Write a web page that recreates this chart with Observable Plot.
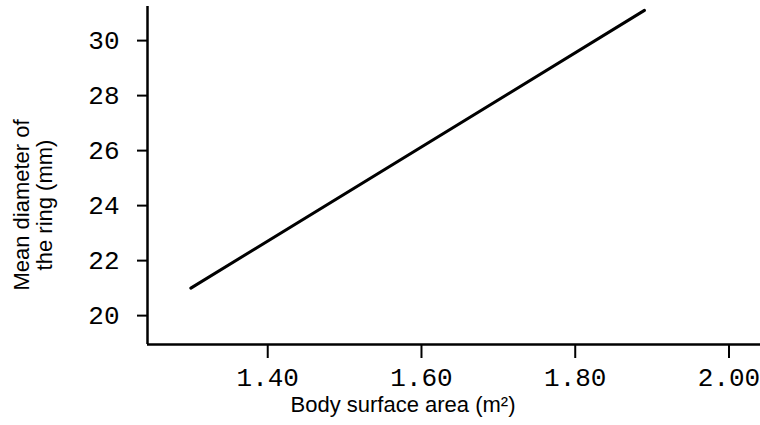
<!DOCTYPE html>
<html><head><meta charset="utf-8">
<script src="https://cdn.jsdelivr.net/npm/d3@7"></script>
<script src="https://cdn.jsdelivr.net/npm/@observablehq/plot@0.6"></script>
<style>html,body{margin:0;padding:0;background:#fff;overflow:hidden;}</style>
</head><body><div id="chart"></div>
<script>
const lineX = [1.30, 1.89];
const lineY = [21.0, 31.1];
const xTicks = [1.40, 1.60, 1.80, 2.00];
const yTicks = [20, 22, 24, 26, 28, 30];
const xDomain = [1.2436, 2.041];
const yDomain = [18.95, 31.24];
const xTitle = "Body surface area (m²)";
const yTitleLines = ["Mean diameter of", "the ring (mm)"];

const data = lineX.map((x, i) => ({x, y: lineY[i]}));
const mono = "'Liberation Mono', 'DejaVu Sans Mono', monospace";
const sans = "'Liberation Sans', Arial, sans-serif";

const chart = Plot.plot({
  width: 760,
  height: 425,
  marginLeft: 147,
  marginRight: 0,
  marginTop: 6,
  marginBottom: 81,
  style: {background: "#fff", color: "#000", overflow: "visible"},
  x: {domain: xDomain},
  y: {domain: yDomain},
  marks: [
    Plot.axisY({ticks: yTicks, tickSize: 10, tickPadding: 18, strokeWidth: 2, fontSize: 26, fontFamily: mono, label: null}),
    Plot.axisX({ticks: xTicks, tickFormat: d3.format(".2f"), tickSize: 14, tickPadding: 9, strokeWidth: 2, fontSize: 26, fontFamily: mono, label: null}),
    Plot.ruleX([xDomain[0]], {stroke: "#000", strokeWidth: 2.5}),
    Plot.ruleY([yDomain[0]], {stroke: "#000", strokeWidth: 2.5}),
    Plot.line(data, {x: "x", y: "y", stroke: "#000", strokeWidth: 3}),
    Plot.text([xTitle], {frameAnchor: "bottom", dx: -51, dy: 60, lineAnchor: "middle", fontSize: 22, fontFamily: sans, fill: "#000"})
  ]
});
document.getElementById("chart").appendChild(chart);

// Two-line rotated y-axis title
const svg = d3.select(chart);
const yt = svg.append("text")
  .attr("transform", "translate(33.5,205) rotate(-90)")
  .attr("text-anchor", "middle")
  .attr("font-family", sans)
  .attr("font-size", 22)
  .attr("fill", "#000");
yTitleLines.forEach((t, i) => {
  yt.append("tspan")
    .attr("x", 0)
    .attr("dy", i === 0 ? "-0.2em" : "1.05em")
    .text(t);
});
</script>
</body></html>
